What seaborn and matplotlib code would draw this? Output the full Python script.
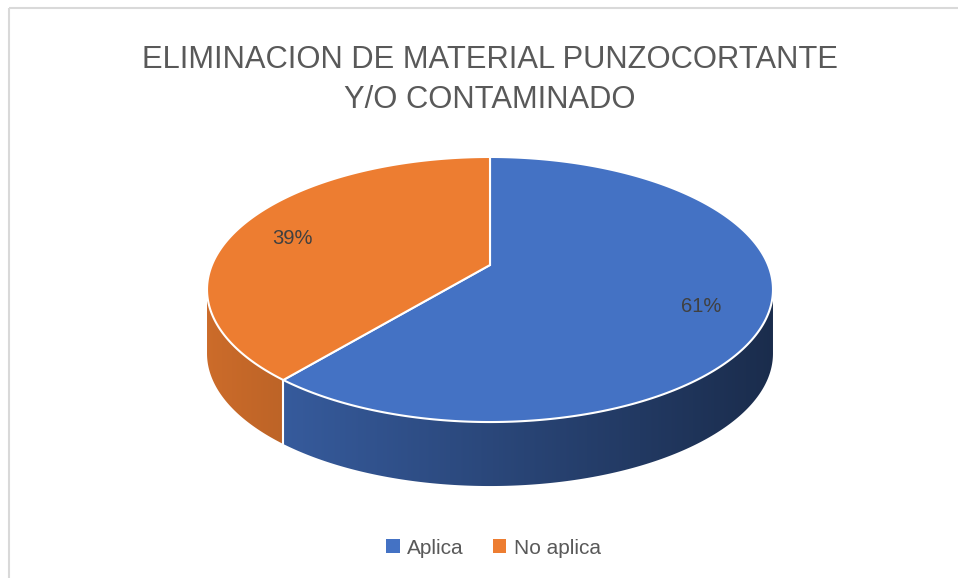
# -*- coding: utf-8 -*-
"""
Camembert 3D facon Excel : elimination de material punzocortante.
Le disque est projete en perspective, les parts sont calculees a partir des %.
"""

import numpy as np
import matplotlib.pyplot as plt
import seaborn as sns
from matplotlib.patches import Polygon, Patch, Rectangle

# Donnees
categorias = ["Aplica", "No aplica"]
porcentajes = [61, 39]
titulo = "ELIMINACION DE MATERIAL PUNZOCORTANTE\nY/O CONTAMINADO"

sns.set_theme(style="white")
plt.rcParams['font.family'] = ['Liberation Sans', 'DejaVu Sans']
colores = sns.color_palette(["#4472C4", "#ED7D31"])

# Geometrie de la projection (pixels)
cx, cy = 490, 265          # centre du disque
A, B, k = 278.1, 128.0, 0.1849  # demi-axes et perspective
epaisseur = 64              # hauteur du cote


def projeter(r, theta):
    # disque (r, theta) -> ecran, theta en radians, far = sin>0
    x = r * np.cos(theta)
    y = r * np.sin(theta)
    d = 1 + k * y
    return cx + A * x / d, cy - B * y / d


fig = plt.figure(figsize=(9.58, 5.78), dpi=100)
ax = fig.add_axes([0, 0, 1, 1])
ax.axis('off')

# cadre gris clair du graphique
ax.add_patch(Rectangle((9, 8), 1000, 1000, fill=False, edgecolor='#d9d9d9', linewidth=1.5))

# angles des parts (depart en haut, sens horaire)
total = sum(porcentajes)
bornes = 90 - 360 * np.concatenate([[0], np.cumsum(porcentajes)]) / total
visible = (-180 + np.degrees(np.arcsin(k)), -np.degrees(np.arcsin(k)))
xmin, xmax = cx - A / np.sqrt(1 - k**2), cx + A / np.sqrt(1 - k**2)

# degrade horizontal : plus sombre vers la droite
t = np.linspace(0, 1, 400)
facteur = 0.86 - 0.47 * t

# cotes (image en degrade decoupee par le contour de chaque part)
for i, col in enumerate(colores):
    t_hi, t_lo = bornes[i], bornes[i + 1]
    for dec in (-360, 0, 360):
        a0 = max(t_lo + dec, visible[0])
        a1 = min(t_hi + dec, visible[1])
        if a1 <= a0:
            continue
        th = np.radians(np.linspace(a0, a1, 200))
        px, py = projeter(1.0, th)
        contour = list(zip(px, py)) + list(zip(px[::-1], py[::-1] + epaisseur))
        clip = Polygon(contour, closed=True, facecolor='none', edgecolor='none')
        ax.add_patch(clip)
        img = np.clip(np.array(col)[None, None, :] * facteur[None, :, None], 0, 1)
        im = ax.imshow(img, extent=(xmin, xmax, cy + 280, cy - 200), aspect='auto',
                       interpolation='bilinear', zorder=1)
        im.set_clip_path(clip)

# separations blanches verticales sur le cote
for b in bornes:
    for dec in (-360, 0, 360):
        a = b + dec
        if visible[0] < a < visible[1]:
            bx, by = projeter(1.0, np.radians(a))
            ax.plot([bx, bx], [by, by + epaisseur], color='white', linewidth=1.5, zorder=2)

# faces du dessus
for i, col in enumerate(colores):
    th = np.radians(np.linspace(bornes[i], bornes[i + 1], 300))
    px, py = projeter(1.0, th)
    pts = [(cx, cy)] + list(zip(px, py))
    ax.add_patch(Polygon(pts, closed=True, facecolor=col, edgecolor='white', linewidth=1.5, zorder=3))

# etiquettes de pourcentage
for i, p in enumerate(porcentajes):
    mid = np.radians((bornes[i] + bornes[i + 1]) / 2)
    lx, ly = projeter(0.78, mid)
    ax.text(lx - 3, ly + 6, f"{p}%", ha='center', va='center', fontsize=14.5,
            color='#404040', zorder=4)

# titre
ax.text(490, 80, titulo, ha='center', va='center', fontsize=22.2, color='#595959',
        linespacing=1.47, zorder=4)

ax.set_xlim(0, 958)
ax.set_ylim(578, 0)

# legende
poignees = [Patch(facecolor=c, edgecolor='none') for c in colores]
leg = fig.legend(poignees, categorias, loc='center', bbox_to_anchor=(0.515, 1 - 548 / 578),
                 ncol=2, frameon=False, fontsize=15, handlelength=0.65, handleheight=0.65,
                 handletextpad=0.35, columnspacing=1.4)
for txt in leg.get_texts():
    txt.set_color('#595959')

fig.savefig('out.png', dpi=100)
